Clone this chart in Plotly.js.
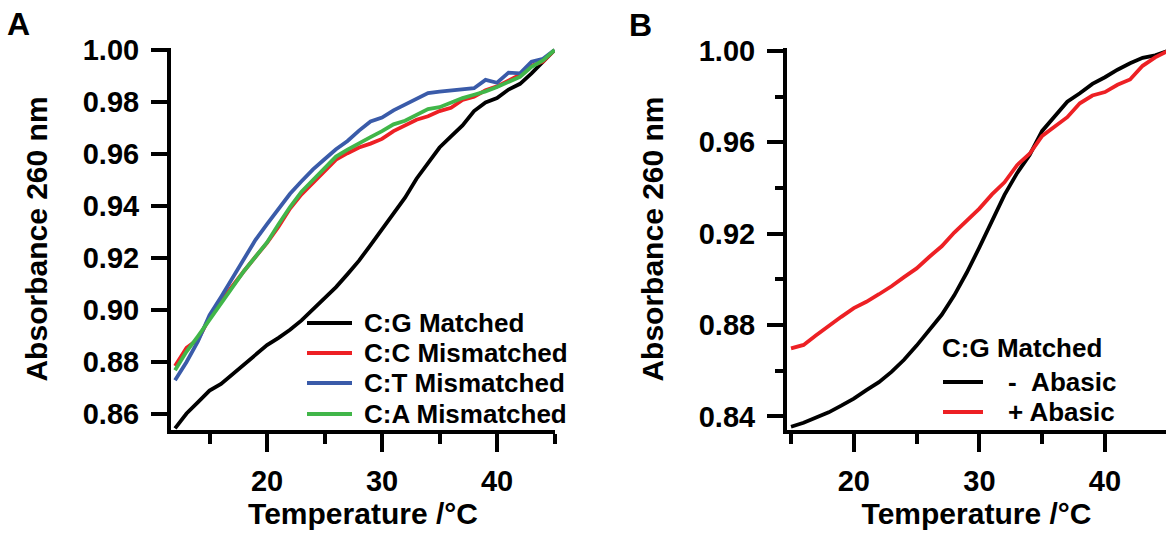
<!DOCTYPE html>
<html>
<head>
<meta charset="utf-8">
<script src="https://cdn.plot.ly/plotly-3.0.1.min.js"></script>
<style>html,body{margin:0;padding:0;background:#fff;}</style>
</head>
<body>
<div id="chart" style="width:1166px;height:534px;"></div>
<script>
// ---------- Panel A data ----------
const tempA = [12,13,14,15,16,17,18,19,20,21,22,23,24,25,26,27,28,29,30,31,32,33,34,35,36,37,38,39,40,41,42,43,44,45];
const cgMatched = [0.8545,0.8602,0.8646,0.8690,0.8716,0.8754,0.8793,0.8830,0.8865,0.8893,0.8924,0.8960,0.9004,0.9044,0.9088,0.9138,0.9190,0.9250,0.9310,0.9372,0.9432,0.9505,0.9567,0.9625,0.9668,0.9710,0.9765,0.9798,0.9815,0.9848,0.9870,0.9910,0.9955,1.0000];
const ccMismatched = [0.8785,0.8855,0.8887,0.8970,0.9035,0.9095,0.9150,0.9205,0.9258,0.9320,0.9390,0.9445,0.9490,0.9535,0.9578,0.9603,0.9625,0.9640,0.9658,0.9688,0.9710,0.9732,0.9745,0.9765,0.9778,0.9808,0.9820,0.9845,0.9860,0.9884,0.9905,0.9940,0.9955,1.0000];
const ctMismatched = [0.8730,0.8800,0.8880,0.8980,0.9050,0.9125,0.9200,0.9270,0.9330,0.9390,0.9447,0.9495,0.9541,0.9580,0.9618,0.9650,0.9690,0.9725,0.9740,0.9768,0.9790,0.9810,0.9834,0.9840,0.9845,0.9850,0.9853,0.9885,0.9874,0.9913,0.9910,0.9955,0.9966,1.0000];
const caMismatched = [0.8768,0.8840,0.8900,0.8962,0.9030,0.9090,0.9150,0.9205,0.9260,0.9330,0.9396,0.9455,0.9500,0.9545,0.9590,0.9617,0.9643,0.9665,0.9688,0.9714,0.9728,0.9752,0.9773,0.9780,0.9798,0.9815,0.9828,0.9841,0.9858,0.9876,0.9897,0.9935,0.9960,1.0000];
const namesA = ['C:G Matched','C:C Mismatched','C:T Mismatched','C:A Mismatched'];
const colorsA = ['#000000','#ed2024','#3a5ba9','#41b649'];

// ---------- Panel B data ----------
const tempB = [15,16,17,18,19,20,21,22,23,24,25,26,27,28,29,30,31,32,33,34,35,36,37,38,39,40,41,42,43,44,45];
const minusAbasic = [0.8355,0.8372,0.8395,0.8418,0.8447,0.8478,0.8515,0.8550,0.8595,0.8648,0.8710,0.8775,0.8845,0.8930,0.9030,0.9140,0.9255,0.9370,0.9465,0.9545,0.9650,0.9712,0.9778,0.9815,0.9856,0.9885,0.9918,0.9946,0.9970,0.9981,1.0000];
const plusAbasic = [0.8698,0.8713,0.8755,0.8798,0.8836,0.8874,0.8902,0.8935,0.8970,0.9010,0.9048,0.9098,0.9145,0.9205,0.9255,0.9310,0.9372,0.9425,0.9500,0.9550,0.9628,0.9670,0.9710,0.9771,0.9805,0.9820,0.9852,0.9875,0.9935,0.9972,1.0000];
const legendTitleB = 'C:G Matched';
const namesB = ['-\u00a0\u00a0Abasic','+ Abasic'];
const colorsB = ['#000000','#ed2024'];

// ---------- labels ----------
const xTitle = 'Temperature /°C';
const yTitle = 'Absorbance 260 nm';
const xTicks = [20,30,40];
const xMinor = [15,25,35,45];
const yTicksA = [0.86,0.88,0.90,0.92,0.94,0.96,0.98,1.00];
const yTicksB = [0.84,0.88,0.92,0.96,1.00];
const yMinorB = [0.86,0.90,0.94,0.98];

const W = 1166, H = 534;
const px = v => v / W;
const py = v => 1 - v / H;
const FONT = 'Liberation Sans, Arial, sans-serif';
const LW = 3.8;

const seriesA = [cgMatched, ccMismatched, ctMismatched, caMismatched];
const seriesB = [minusAbasic, plusAbasic];

const traces = [];
seriesA.forEach((s, i) => traces.push({
  x: tempA, y: s, type: 'scatter', mode: 'lines', name: namesA[i],
  line: {color: colorsA[i], width: LW}, xaxis: 'x', yaxis: 'y', showlegend: false
}));
seriesB.forEach((s, i) => traces.push({
  x: tempB, y: s, type: 'scatter', mode: 'lines', name: namesB[i],
  line: {color: colorsB[i], width: LW}, xaxis: 'x2', yaxis: 'y2', showlegend: false
}));

const tickFont = {family: FONT, size: 29, color: '#000', weight: 'bold'};
const titleFont = {family: FONT, size: 30, color: '#000', weight: 'bold'};

function xAxis(domain, range, anchor) {
  return {
    domain: domain, range: range, anchor: anchor,
    showline: true, linecolor: '#000', linewidth: 4,
    ticks: 'outside', ticklen: 18, tickwidth: 4, tickcolor: '#000',
    tickmode: 'array', tickvals: xTicks, ticktext: xTicks.map(String),
    minor: {tickmode: 'array', tickvals: xMinor, ticks: 'outside', ticklen: 10, tickwidth: 4, tickcolor: '#000', showgrid: false},
    showgrid: false, zeroline: false, tickfont: tickFont, ticklabelstandoff: 4,
    title: {text: xTitle, font: titleFont, standoff: 4}
  };
}
function yAxis(domain, range, anchor, ticks, minor) {
  const ax = {
    domain: domain, range: range, anchor: anchor,
    showline: true, linecolor: '#000', linewidth: 4,
    ticks: 'outside', ticklen: 16, tickwidth: 4, tickcolor: '#000',
    tickmode: 'array', tickvals: ticks, ticktext: ticks.map(v => v.toFixed(2)),
    showgrid: false, zeroline: false, tickfont: tickFont, ticklabelstandoff: 6,
    title: {text: yTitle, font: titleFont, standoff: 27}
  };
  if (minor) ax.minor = {tickmode: 'array', tickvals: minor, ticks: 'outside', ticklen: 8, tickwidth: 4, tickcolor: '#000', showgrid: false};
  return ax;
}

const shapes = [];
const annotations = [];
const legFont = {family: FONT, size: 26, color: '#000', weight: 'bold'};

// Panel A legend
const rowsA = [323, 353, 383, 414];
namesA.forEach((n, i) => {
  shapes.push({type: 'line', xref: 'paper', yref: 'paper', x0: px(307), x1: px(352), y0: py(rowsA[i]), y1: py(rowsA[i]), line: {color: colorsA[i], width: LW}});
  annotations.push({xref: 'paper', yref: 'paper', x: px(362), y: py(rowsA[i]), xanchor: 'left', yanchor: 'middle', text: n, showarrow: false, font: legFont});
});
// Panel B legend
annotations.push({xref: 'paper', yref: 'paper', x: px(940), y: py(348), xanchor: 'left', yanchor: 'middle', text: legendTitleB, showarrow: false, font: legFont});
const rowsB = [382, 412];
namesB.forEach((n, i) => {
  shapes.push({type: 'line', xref: 'paper', yref: 'paper', x0: px(943), x1: px(983), y0: py(rowsB[i]), y1: py(rowsB[i]), line: {color: colorsB[i], width: LW}});
  annotations.push({xref: 'paper', yref: 'paper', x: px(1006), y: py(rowsB[i]), xanchor: 'left', yanchor: 'middle', text: n, showarrow: false, font: legFont});
});
// panel letters
const letterFont = {family: FONT, size: 32, color: '#000', weight: 'bold'};
annotations.push({xref: 'paper', yref: 'paper', x: px(5), y: py(24), xanchor: 'left', yanchor: 'middle', text: 'A', showarrow: false, font: letterFont});
annotations.push({xref: 'paper', yref: 'paper', x: px(627), y: py(25), xanchor: 'left', yanchor: 'middle', text: 'B', showarrow: false, font: letterFont});

const layout = {
  width: W, height: H,
  margin: {l: 0, r: 0, t: 0, b: 0},
  paper_bgcolor: '#fff', plot_bgcolor: '#fff',
  showlegend: false,
  xaxis: xAxis([px(171), px(555)], [11.65, 45.04], 'y'),
  yaxis: yAxis([py(430), py(48)], [0.85385, 1.00077], 'x', yTicksA, null),
  xaxis2: xAxis([px(787), 1], [14.68, 44.86], 'y2'),
  yaxis2: yAxis([py(430), py(48)], [0.83406, 1.0013], 'x2', yTicksB, yMinorB),
  shapes: shapes,
  annotations: annotations
};

Plotly.newPlot('chart', traces, layout, {displayModeBar: false, staticPlot: true});
</script>
</body>
</html>
